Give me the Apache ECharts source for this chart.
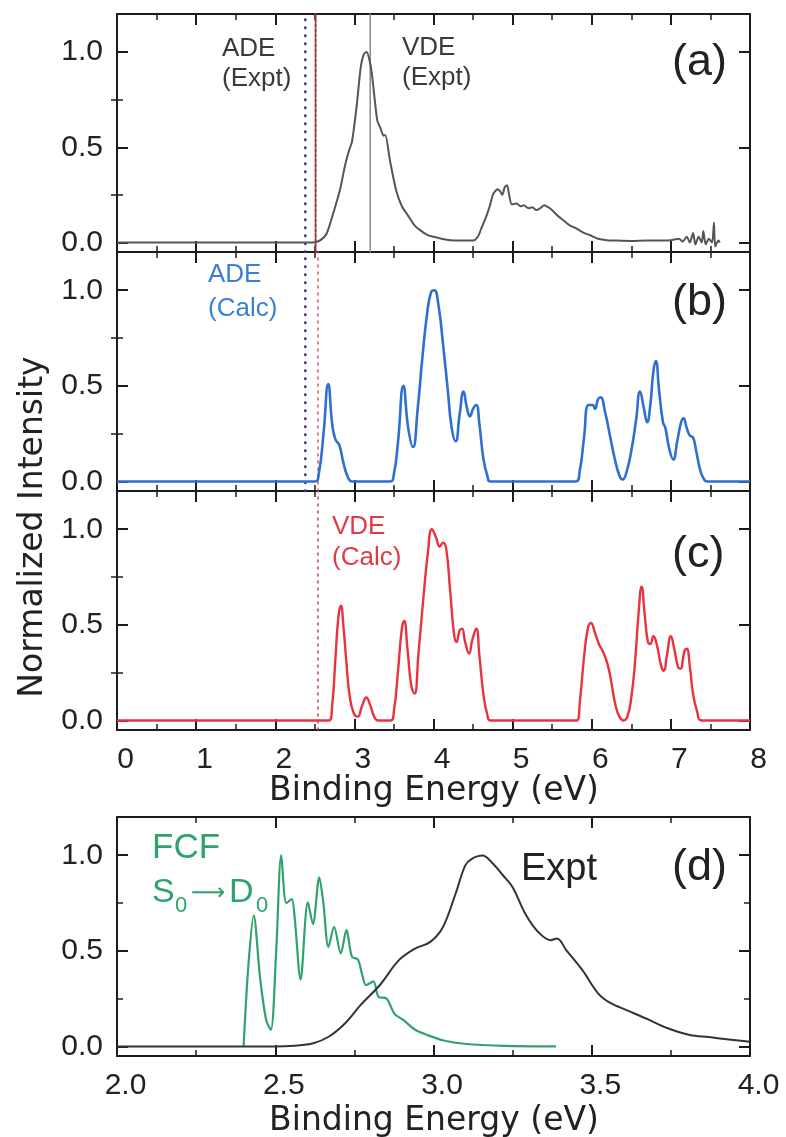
<!DOCTYPE html>
<html><head><meta charset="utf-8">
<script src="https://cdn.jsdelivr.net/npm/echarts/dist/echarts.min.js"></script>
<style>html,body{margin:0;padding:0;background:#fff}#c{width:786px;height:1137px}</style>
</head><body><div id="c"></div>
<script>
const FONT = '"Liberation Sans", Arial, Helvetica, sans-serif';
const WIDE = '"DejaVu Sans", "Liberation Sans", sans-serif';

// ---------- DATA ----------
// (a) experimental photoelectron spectrum [binding energy eV, normalized intensity]
const exptA = [[0,0],[2.40,0],[2.52,0.003],[2.58,0.015],[2.65,0.047],[2.73,0.15],[2.82,0.28],[2.88,0.40],[2.93,0.48],[2.97,0.53],[3.03,0.72],[3.08,0.92],[3.12,0.99],[3.155,1.0],[3.19,0.96],[3.22,0.89],[3.26,0.74],[3.29,0.64],[3.33,0.60],[3.37,0.56],[3.39,0.565],[3.45,0.43],[3.53,0.27],[3.60,0.19],[3.68,0.14],[3.76,0.09],[3.83,0.065],[3.92,0.04],[4.0,0.03],[4.10,0.02],[4.21,0.012],[4.35,0.01],[4.50,0.01],[4.56,0.03],[4.61,0.08],[4.67,0.14],[4.71,0.19],[4.75,0.25],[4.78,0.27],[4.81,0.28],[4.84,0.27],[4.87,0.25],[4.90,0.29],[4.93,0.30],[4.96,0.24],[4.99,0.20],[5.05,0.205],[5.10,0.19],[5.14,0.195],[5.20,0.18],[5.25,0.185],[5.30,0.17],[5.35,0.18],[5.40,0.195],[5.43,0.19],[5.47,0.18],[5.51,0.165],[5.57,0.14],[5.64,0.117],[5.72,0.09],[5.81,0.073],[5.90,0.05],[5.98,0.038],[6.08,0.02],[6.19,0.012],[6.3,0.01],[6.5,0.008],[6.7,0.01],[6.9,0.01],[7.0,0.012],[7.1,0.02],[7.15,0.005],[7.2,0.03],[7.24,0.0],[7.28,0.05],[7.31,-0.01],[7.35,0.03],[7.39,0.0],[7.41,0.06],[7.44,-0.01],[7.48,0.02],[7.52,0.0],[7.545,0.105],[7.56,-0.02],[7.6,0.01],[7.62,0.0]];
// (b) calculated spectrum referenced to ADE
const calcB = [[0,0],[2.50,0],[2.55,0.04],[2.61,0.25],[2.67,0.51],[2.72,0.30],[2.76,0.22],[2.81,0.19],[2.86,0.10],[2.92,0.02],[2.97,0],[3.45,0],[3.50,0.04],[3.55,0.20],[3.62,0.50],[3.68,0.28],[3.74,0.18],[3.80,0.38],[3.86,0.65],[3.92,0.88],[3.97,0.99],[4.01,1.0],[4.06,0.93],[4.12,0.72],[4.18,0.48],[4.23,0.28],[4.28,0.21],[4.33,0.35],[4.38,0.47],[4.42,0.39],[4.46,0.34],[4.50,0.38],[4.54,0.40],[4.58,0.30],[4.63,0.12],[4.68,0.03],[4.72,0],[5.80,0],[5.85,0.06],[5.90,0.22],[5.96,0.40],[6.01,0.40],[6.04,0.38],[6.08,0.43],[6.11,0.44],[6.17,0.36],[6.23,0.24],[6.29,0.12],[6.35,0.03],[6.39,0.01],[6.44,0.05],[6.50,0.16],[6.56,0.32],[6.61,0.47],[6.66,0.38],[6.70,0.31],[6.74,0.40],[6.78,0.58],[6.81,0.63],[6.85,0.48],[6.90,0.31],[6.93,0.28],[6.98,0.17],[7.03,0.115],[7.08,0.21],[7.13,0.31],[7.16,0.33],[7.20,0.28],[7.24,0.24],[7.28,0.23],[7.32,0.16],[7.37,0.06],[7.42,0.01],[7.46,0],[8,0]];
// (c) calculated spectrum referenced to VDE
const calcC = [[0,0],[2.68,0],[2.72,0.08],[2.76,0.32],[2.80,0.55],[2.83,0.60],[2.86,0.50],[2.90,0.30],[2.94,0.13],[2.99,0.04],[3.04,0.02],[3.10,0.08],[3.15,0.12],[3.20,0.08],[3.25,0.02],[3.30,0],[3.46,0],[3.50,0.05],[3.55,0.25],[3.60,0.48],[3.63,0.52],[3.67,0.38],[3.72,0.18],[3.76,0.14],[3.81,0.35],[3.87,0.63],[3.93,0.88],[3.98,1.0],[4.03,0.96],[4.08,0.91],[4.12,0.93],[4.16,0.90],[4.21,0.68],[4.26,0.45],[4.29,0.41],[4.33,0.47],[4.36,0.48],[4.40,0.41],[4.45,0.35],[4.49,0.42],[4.54,0.48],[4.58,0.34],[4.63,0.14],[4.68,0.03],[4.72,0],[5.81,0],[5.85,0.10],[5.90,0.32],[5.95,0.48],[5.99,0.51],[6.04,0.46],[6.09,0.40],[6.13,0.37],[6.18,0.32],[6.22,0.26],[6.26,0.17],[6.30,0.08],[6.35,0.02],[6.40,0],[6.45,0.02],[6.50,0.12],[6.55,0.32],[6.59,0.55],[6.63,0.70],[6.67,0.55],[6.71,0.41],[6.74,0.40],[6.78,0.44],[6.82,0.40],[6.88,0.28],[6.91,0.26],[6.95,0.34],[7.00,0.44],[7.04,0.38],[7.09,0.28],[7.12,0.27],[7.17,0.36],[7.20,0.375],[7.24,0.28],[7.28,0.14],[7.33,0.05],[7.39,0],[8,0]];
// (d) experimental first band (zoom) and Franck-Condon simulation S0->D0
const exptD = [[2.0,0],[2.50,0],[2.56,0.004],[2.62,0.017],[2.67,0.052],[2.72,0.12],[2.77,0.217],[2.83,0.32],[2.89,0.45],[2.94,0.51],[2.99,0.547],[3.03,0.625],[3.07,0.80],[3.10,0.946],[3.12,0.98],[3.155,0.998],[3.18,0.97],[3.22,0.894],[3.25,0.833],[3.29,0.694],[3.33,0.60],[3.37,0.556],[3.39,0.564],[3.42,0.503],[3.47,0.40],[3.52,0.278],[3.56,0.226],[3.61,0.19],[3.68,0.14],[3.74,0.095],[3.81,0.06],[3.87,0.049],[3.94,0.035],[4.0,0.024]];
const fcfD = [[2.40,0],[2.415,0.42],[2.432,0.686],[2.452,0.36],[2.471,0.14],[2.486,0.087],[2.503,0.50],[2.519,1.0],[2.535,0.75],[2.552,0.77],[2.561,0.68],[2.58,0.35],[2.603,0.755],[2.619,0.64],[2.639,0.885],[2.652,0.75],[2.668,0.52],[2.686,0.625],[2.707,0.486],[2.725,0.61],[2.742,0.47],[2.761,0.455],[2.774,0.38],[2.787,0.32],[2.81,0.34],[2.826,0.26],[2.852,0.25],[2.877,0.17],[2.903,0.14],[2.942,0.087],[2.98,0.06],[3.032,0.031],[3.097,0.014],[3.226,0.003],[3.387,0]];
// reference energies (eV)
const ADE_CALC = 2.38, ADE_EXPT = 2.51, VDE_CALC = 2.54, VDE_EXPT = 3.2;
// tick values
const yMajorTicks = [0, 0.5, 1.0];
const yMinorTicks = [0.25, 0.75];
const xRangeABC = [0, 8, 1];
const xRangeD = [2, 4, 0.5];
const yRange = [-0.05, 1.2];

// ---------- COLORS ----------
const AX = '#1c1c1c', GRAY = '#555555', DARK = '#333333', BLUE = '#2f6fd0', RED = '#e8333f', GREEN = '#2ea36b', NAVY = '#30308a';

const grids = [
  {left:117, top:14, width:633, height:238},
  {left:117, top:252, width:633, height:239},
  {left:117, top:491, width:633, height:239},
  {left:117, top:817, width:633, height:239}
];
const xAxis = [], yAxis = [];
grids.forEach((g, i) => {
  const r = i === 3 ? xRangeD : xRangeABC;
  const showLab = (i === 2 || i === 3);
  ['bottom','top'].forEach(pos => {
    xAxis.push({
      gridIndex:i, type:'value', min:r[0], max:r[1], interval:r[2], position:pos,
      axisLine:{show:true, onZero:false, lineStyle:{color:AX, width:2}},
      axisTick:{show:true, inside:true, length:11, lineStyle:{color:AX, width:2}},
      minorTick:{show:true, splitNumber:2, length:6, lineStyle:{color:AX, width:1.5}},
      splitLine:{show:false}, minorSplitLine:{show:false},
      axisLabel:{show: showLab && pos==='bottom', fontFamily:FONT, fontSize:30, color:'#222', margin:15, padding:[0,0,0,17],
        formatter: v => i === 3 ? v.toFixed(1) : String(v)}
    });
  });
  ['left','right'].forEach(pos => {
    yAxis.push({
      gridIndex:i, type:'value', min:yRange[0], max:yRange[1], position:pos,
      axisLine:{show:true, onZero:false, lineStyle:{color:AX, width:2}},
      axisTick:{show:true, inside:true, length:11, customValues:yMajorTicks, lineStyle:{color:AX, width:2}},
      splitLine:{show:false},
      axisLabel:{show: pos==='left', customValues:yMajorTicks, fontFamily:FONT, fontSize:30, color:'#222', margin:14,
        formatter: v => v.toFixed(1)}
    });
    yAxis.push({
      gridIndex:i, type:'value', min:yRange[0], max:yRange[1], position:pos,
      axisLine:{show:false},
      axisTick:{show:true, inside:true, length:6, customValues:yMinorTicks, lineStyle:{color:AX, width:1.5}},
      splitLine:{show:false}, axisLabel:{show:false}
    });
  });
});

function curve(data, g, color, width, smooth) {
  return {type:'line', xAxisIndex:2*g, yAxisIndex:4*g, data:data, showSymbol:false, symbol:'none',
    smooth:smooth, lineStyle:{color:color, width:width, join:'round'}, z:5, silent:true};
}
function vline(x, g, color, width, dash) {
  return {type:'line', xAxisIndex:2*g, yAxisIndex:4*g, data:[[x,yRange[0]],[x,yRange[1]]], showSymbol:false, symbol:'none',
    lineStyle:{color:color, width:width, type:dash, cap:'round'}, z:3, silent:true};
}

const series = [
  vline(VDE_EXPT, 0, '#8a8a8a', 1.5, 'solid'),
  vline(ADE_CALC, 0, NAVY, 2.5, [0.5,7.5]),
  vline(ADE_EXPT, 0, '#9a3535', 2, [3,2]),
  vline(ADE_CALC, 1, NAVY, 2.5, [0.5,7.5]),
  vline(VDE_CALC, 1, '#e0505a', 1.5, [2,5]),
  vline(VDE_CALC, 2, '#c04050', 1.5, [2,5]),
  curve(exptA, 0, GRAY, 2, 0.25),
  curve(calcB, 1, BLUE, 2.6, 0.5),
  curve(calcC, 2, RED, 2.4, 0.5),
  curve(fcfD, 3, GREEN, 2.2, 0.3),
  curve(exptD, 3, DARK, 2, 0.35)
];

function txt(x, y, s, size, color, family, align) {
  return {type:'text', x:x, y:y, silent:true, z:10,
    style:{text:s, fontFamily:family || FONT, fontSize:size, fill:color, align:align || 'left', verticalAlign:'middle'}};
}
const graphic = [
  txt(222, 49, 'ADE', 26, '#3a3a3a'), txt(222, 79, '(Expt)', 26, '#3a3a3a'),
  txt(402, 48, 'VDE', 26, '#3a3a3a'), txt(402, 78, '(Expt)', 26, '#3a3a3a'),
  txt(208, 275, 'ADE', 26, '#3a7fd5'), txt(208, 309, '(Calc)', 26, '#3a7fd5'),
  txt(332, 527, 'VDE', 26, '#e03a45'), txt(332, 558, '(Calc)', 26, '#e03a45'),
  txt(672, 63, '(a)', 45, '#222'), txt(672, 303, '(b)', 45, '#222'),
  txt(672, 555, '(c)', 45, '#222'), txt(672, 868, '(d)', 45, '#222'),
  txt(521, 870, 'Expt', 38, '#222'),
  txt(152, 848, 'FCF', 35, GREEN),
  txt(152, 893, 'S', 34, GREEN),
  txt(175, 906, '0', 22, GREEN),
  txt(191, 894, '⟶', 24, GREEN, WIDE),
  txt(229, 893, 'D', 34, GREEN),
  txt(256, 906, '0', 22, GREEN),
  txt(434, 791, 'Binding Energy (eV)', 33, '#222', WIDE, 'center'),
  txt(434, 1121, 'Binding Energy (eV)', 33, '#222', WIDE, 'center'),
  {type:'text', x:33, y:527, rotation:Math.PI/2, silent:true, z:10,
    style:{text:'Normalized Intensity', fontFamily:WIDE, fontSize:33, fill:'#222', align:'center', verticalAlign:'middle'}}
];

const chart = echarts.init(document.getElementById('c'), null, {renderer:'canvas'});
chart.setOption({
  animation:false, backgroundColor:'#ffffff',
  textStyle:{fontFamily:FONT},
  grid:grids, xAxis:xAxis, yAxis:yAxis, series:series, graphic:graphic
});
</script>
</body></html>
